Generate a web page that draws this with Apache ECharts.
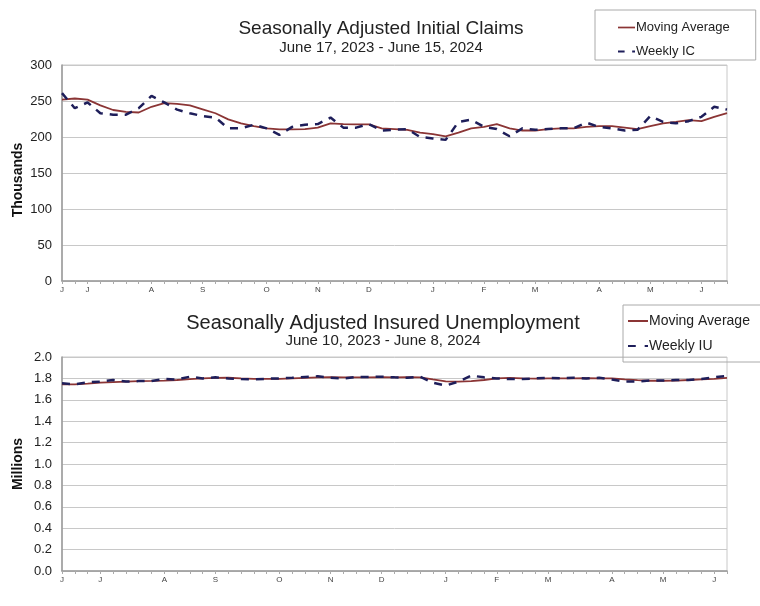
<!DOCTYPE html>
<html>
<head>
<meta charset="utf-8">
<script src="https://cdn.jsdelivr.net/npm/echarts@6/dist/echarts.min.js"></script>
<style>
html,body{margin:0;padding:0;background:#fff;}
#chart{width:760px;height:606px;}
</style>
</head>
<body>
<div id="chart"></div>
<script>
// ---- Top chart: Initial Claims (thousands), weeks June 17, 2023 - June 15, 2024
var icWeeks = ['2023-06-17','2023-06-24','2023-07-01','2023-07-08','2023-07-15','2023-07-22','2023-07-29',
  '2023-08-05','2023-08-12','2023-08-19','2023-08-26','2023-09-02','2023-09-09','2023-09-16','2023-09-23','2023-09-30',
  '2023-10-07','2023-10-14','2023-10-21','2023-10-28','2023-11-04','2023-11-11','2023-11-18','2023-11-25',
  '2023-12-02','2023-12-09','2023-12-16','2023-12-23','2023-12-30','2024-01-06','2024-01-13','2024-01-20','2024-01-27',
  '2024-02-03','2024-02-10','2024-02-17','2024-02-24','2024-03-02','2024-03-09','2024-03-16','2024-03-23','2024-03-30',
  '2024-04-06','2024-04-13','2024-04-20','2024-04-27','2024-05-04','2024-05-11','2024-05-18','2024-05-25',
  '2024-06-01','2024-06-08','2024-06-15'];
var icTickLabels = {'2023-06-17':'J','2023-07-01':'J','2023-08-05':'A','2023-09-02':'S','2023-10-07':'O',
  '2023-11-04':'N','2023-12-02':'D','2024-01-06':'J','2024-02-03':'F','2024-03-02':'M','2024-04-06':'A',
  '2024-05-04':'M','2024-06-01':'J'};
var icWeekly = [261,240,248,233,231,231,240,257,248,238,233,229,227,212,212,217,212,203,214,217,218,227,213,213,218,
  209,210,211,200,198,196,221,224,214,211,201,212,210,211,212,212,220,214,212,209,210,229,221,219,222,228,242,238];
var icMovingAvg = [252,253.5,252,244,237.5,235,234,242,247,246,244,238.5,233,224.5,219,215,212,210.5,210.5,211,213,
  219,218,217.5,217.5,212,211,210,206,204,201,206,212,214,218,212,209,209,211,212,212,214,215,215,213,211,215,219,
  221,223.5,222,228,233];
var icYTicks = {min:0, max:300, interval:50};

// ---- Bottom chart: Insured Unemployment (millions), weeks June 10, 2023 - June 8, 2024
var iuWeeks = ['2023-06-10','2023-06-17','2023-06-24','2023-07-01','2023-07-08','2023-07-15','2023-07-22','2023-07-29',
  '2023-08-05','2023-08-12','2023-08-19','2023-08-26','2023-09-02','2023-09-09','2023-09-16','2023-09-23','2023-09-30',
  '2023-10-07','2023-10-14','2023-10-21','2023-10-28','2023-11-04','2023-11-11','2023-11-18','2023-11-25',
  '2023-12-02','2023-12-09','2023-12-16','2023-12-23','2023-12-30','2024-01-06','2024-01-13','2024-01-20','2024-01-27',
  '2024-02-03','2024-02-10','2024-02-17','2024-02-24','2024-03-02','2024-03-09','2024-03-16','2024-03-23','2024-03-30',
  '2024-04-06','2024-04-13','2024-04-20','2024-04-27','2024-05-04','2024-05-11','2024-05-18','2024-05-25',
  '2024-06-01','2024-06-08'];
var iuTickLabels = {'2023-06-10':'J','2023-07-01':'J','2023-08-05':'A','2023-09-02':'S','2023-10-07':'O',
  '2023-11-04':'N','2023-12-02':'D','2024-01-06':'J','2024-02-03':'F','2024-03-02':'M','2024-04-06':'A',
  '2024-05-04':'M','2024-06-01':'J'};
var iuWeekly = [1.754,1.745,1.763,1.770,1.785,1.770,1.775,1.775,1.794,1.790,1.816,1.800,1.810,1.800,1.794,1.790,1.797,
  1.800,1.806,1.813,1.820,1.806,1.800,1.813,1.813,1.816,1.810,1.806,1.816,1.760,1.733,1.770,1.826,1.810,1.800,1.794,
  1.794,1.800,1.806,1.800,1.806,1.800,1.806,1.790,1.770,1.770,1.780,1.780,1.785,1.785,1.794,1.810,1.823];
var iuMovingAvg = [1.745,1.745,1.752,1.760,1.765,1.770,1.775,1.776,1.780,1.785,1.794,1.800,1.804,1.806,1.800,1.796,
  1.795,1.795,1.800,1.805,1.810,1.812,1.810,1.810,1.810,1.812,1.810,1.812,1.810,1.790,1.772,1.770,1.775,1.785,1.800,
  1.805,1.800,1.797,1.800,1.800,1.800,1.803,1.800,1.800,1.790,1.783,1.778,1.778,1.780,1.785,1.790,1.795,1.805];
var iuYTicks = {min:0, max:2, interval:0.2};

var FONT = 'Arial, "Liberation Sans", sans-serif';
var MA_COLOR = '#8B3535';
var WK_COLOR = '#1E1E5A';
var MA_ICON = 'path://M0,0 L20,0 L20,2 L0,2 Z';
var WK_ICON = 'path://M0,0 L7,0 L7,2 L0,2 Z M15,0 L18,0 L18,2 L15,2 Z';

function xAxisFor(gridIndex, cats, labels) {
  return {
    type:'category', gridIndex:gridIndex, data:cats, boundaryGap:false,
    axisLine:{show:true, lineStyle:{color:'#999', width:1.5}},
    axisTick:{show:true, interval:0, length:3, lineStyle:{color:'#aaa'}},
    axisLabel:{
      interval:function(i, v){ return labels.hasOwnProperty(v); },
      formatter:function(v){ return labels[v] || ''; },
      fontSize:8, color:'#444', fontFamily:FONT, margin:5
    },
    splitLine:{show:false}
  };
}

var chart = echarts.init(document.getElementById('chart'), null, {renderer:'canvas'});
chart.setOption({
  animation:false,
  backgroundColor:'#fff',
  title:[
    {text:'Seasonally Adjusted Initial Claims', subtext:'June 17, 2023 - June 15, 2024',
     left:376, top:14, textAlign:'center', itemGap:2,
     textStyle:{fontSize:19, fontWeight:'normal', color:'#222', fontFamily:FONT},
     subtextStyle:{fontSize:15, color:'#222', fontFamily:FONT}},
    {text:'Seasonally Adjusted Insured Unemployment', subtext:'June 10, 2023 - June 8, 2024',
     left:378, top:308, textAlign:'center', itemGap:0,
     textStyle:{fontSize:20, fontWeight:'normal', color:'#222', fontFamily:FONT},
     subtextStyle:{fontSize:15, color:'#222', fontFamily:FONT}}
  ],
  legend:[
    {data:[{name:'Moving Average', icon:MA_ICON}, {name:'Weekly IC', icon:WK_ICON}],
     orient:'vertical', left:595, top:10,
     padding:[11, 26, 2, 23], itemGap:11, itemWidth:17, itemHeight:2.5,
     borderColor:'#aaa', borderWidth:1, selectedMode:false,
     textStyle:{fontSize:13, color:'#222', fontFamily:FONT, padding:[0,0,0,-4], lineHeight:12, height:12}},
    {data:[{name:'Moving Average ', icon:MA_ICON}, {name:'Weekly IU', icon:WK_ICON}],
     orient:'vertical', left:623, top:305,
     padding:[9, 10, 9, 5], itemGap:11, itemWidth:20, itemHeight:2.5,
     borderColor:'#aaa', borderWidth:1, selectedMode:false,
     textStyle:{fontSize:14, color:'#222', fontFamily:FONT, padding:[0,0,0,-4], lineHeight:12, height:12}}
  ],
  grid:[
    {left:62, top:65, width:665, height:216, show:true, borderColor:'#c8c8c8', borderWidth:1,
     containLabel:false, outerBoundsMode:'none'},
    {left:62, top:357, width:665, height:214, show:true, borderColor:'#c8c8c8', borderWidth:1,
     containLabel:false, outerBoundsMode:'none'}
  ],
  xAxis:[ xAxisFor(0, icWeeks, icTickLabels), xAxisFor(1, iuWeeks, iuTickLabels) ],
  yAxis:[
    {type:'value', gridIndex:0, min:icYTicks.min, max:icYTicks.max, interval:icYTicks.interval,
     name:'Thousands', nameLocation:'middle', nameGap:37, nameMoveOverlap:false,
     nameTextStyle:{fontSize:14, fontWeight:'bold', color:'#111', fontFamily:FONT, padding:[0,14,0,0]},
     axisLine:{show:true, lineStyle:{color:'#999', width:1.5}}, axisTick:{show:false},
     axisLabel:{fontSize:13, color:'#222', fontFamily:FONT, margin:10},
     splitLine:{lineStyle:{color:'#c8c8c8', width:1}}},
    {type:'value', gridIndex:1, min:iuYTicks.min, max:iuYTicks.max, interval:iuYTicks.interval,
     name:'Millions', nameLocation:'middle', nameGap:37, nameMoveOverlap:false,
     nameTextStyle:{fontSize:14, fontWeight:'bold', color:'#111', fontFamily:FONT},
     axisLine:{show:true, lineStyle:{color:'#999', width:1.5}}, axisTick:{show:false},
     axisLabel:{fontSize:13, color:'#222', fontFamily:FONT, margin:10,
       formatter:function(v){ return v.toFixed(1); }},
     splitLine:{lineStyle:{color:'#c8c8c8', width:1}}}
  ],
  series:[
    {name:'Moving Average', type:'line', xAxisIndex:0, yAxisIndex:0, data:icMovingAvg,
     showSymbol:false, symbol:'none', lineStyle:{color:MA_COLOR, width:1.8}, itemStyle:{color:MA_COLOR}, z:2},
    {name:'Weekly IC', type:'line', xAxisIndex:0, yAxisIndex:0, data:icWeekly,
     showSymbol:false, symbol:'none', lineStyle:{color:WK_COLOR, width:2.5, type:[8,7]}, itemStyle:{color:WK_COLOR}, z:3},
    {name:'Moving Average ', type:'line', xAxisIndex:1, yAxisIndex:1, data:iuMovingAvg,
     showSymbol:false, symbol:'none', lineStyle:{color:MA_COLOR, width:1.8}, itemStyle:{color:MA_COLOR}, z:2},
    {name:'Weekly IU', type:'line', xAxisIndex:1, yAxisIndex:1, data:iuWeekly,
     showSymbol:false, symbol:'none', lineStyle:{color:WK_COLOR, width:2.5, type:[8,7]}, itemStyle:{color:WK_COLOR}, z:3}
  ]
});
</script>
</body>
</html>
